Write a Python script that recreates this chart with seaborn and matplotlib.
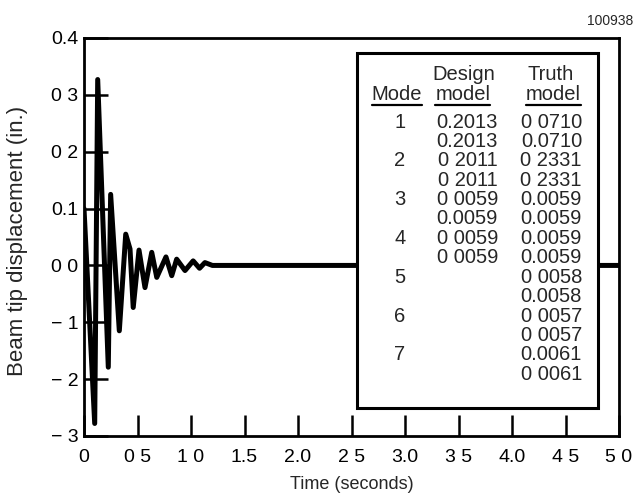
import numpy as np
import pandas as pd
import matplotlib
matplotlib.use("Agg")
import matplotlib.pyplot as plt
import seaborn as sns
from matplotlib.patches import Rectangle
from matplotlib.lines import Line2D

# beam tip response
time_s = [0.0, 0.10, 0.128, 0.227, 0.249, 0.33, 0.39, 0.43, 0.46, 0.514, 0.57,
          0.633, 0.68, 0.766, 0.82, 0.866, 0.944, 1.02, 1.08, 1.13, 1.2, 5.0]
displacement = [0.10, -0.278, 0.327, -0.179, 0.125, -0.115, 0.055, 0.029, -0.074,
                0.027, -0.039, 0.023, -0.021, 0.015, -0.018, 0.011, -0.009, 0.008,
                -0.005, 0.005, 0.0, 0.0]

# inset table (text as printed in the scan)
modes = ["1", "", "2", "", "3", "", "4", "", "5", "", "6", "", "7", ""]
design_model = ["0.2013", "0.2013", "0 2011", "0 2011", "0 0059", "0.0059",
                "0 0059", "0 0059", "", "", "", "", "", ""]
truth_model = ["0 0710", "0.0710", "0 2331", "0 2331", "0.0059", "0.0059",
               "0.0059", "0.0059", "0 0058", "0.0058", "0 0057", "0 0057",
               "0.0061", "0 0061"]

ytick_vals = [0.4, 0.3, 0.2, 0.1, 0.0, -0.1, -0.2, -0.3]
ytick_labels = ["0.4", "0 3", "0 2", "0.1", "0 0", "\u2212 1", "\u2212 2", "\u2212 3"]
xtick_vals = [0.0, 0.5, 1.0, 1.5, 2.0, 2.5, 3.0, 3.5, 4.0, 4.5, 5.0]
xtick_labels = ["0", "0 5", "1 0", "1.5", "2.0", "2 5", "3.0", "3 5", "4.0", "4 5", "5 0"]

df = pd.DataFrame({"time": time_s, "disp": displacement})

sns.set_style("white")
plt.rcParams["font.family"] = ["Liberation Sans", "DejaVu Sans"]

W, H = 635, 499
fig = plt.figure(figsize=(W / 100, H / 100), dpi=100)
# axes box in pixels: left 84, right 619, top 38, bottom 436
ax = fig.add_axes([84 / W, 1 - 436 / H, (619 - 84) / W, (436 - 38) / H])

sns.lineplot(data=df, x="time", y="disp", ax=ax, color="black", linewidth=3.6,
             sort=False, zorder=2)

ax.set_xlim(0, 5.0)
ax.set_ylim(-0.3, 0.4)
ax.set_xticks(xtick_vals)
ax.set_xticklabels(xtick_labels)
ax.set_yticks(ytick_vals)
ax.set_yticklabels(ytick_labels)
ax.tick_params(axis="both", direction="in", width=1.8, labelsize=14,
               colors="black", bottom=True, left=True, top=False, right=False)
ax.tick_params(axis="x", pad=9, length=15)
ax.tick_params(axis="y", pad=4, length=17)
for sp in ax.spines.values():
    sp.set_linewidth(2)
    sp.set_color("black")

ax.set_xlabel("Time (seconds)", fontsize=13)
ax.set_ylabel("Beam tip displacement (in.)", fontsize=16)
ax.xaxis.set_label_coords(0.5, -0.10)
ax.yaxis.set_label_coords(-0.105, 0.49)

# inset table box
box_x0, box_x1 = (357 - 84) / 535, (598 - 84) / 535
box_y0, box_y1 = (436 - 408) / 398, (436 - 53) / 398
ax.add_patch(Rectangle((box_x0, box_y0), box_x1 - box_x0, box_y1 - box_y0,
                       transform=ax.transAxes, facecolor="white", edgecolor="black",
                       linewidth=2.2, zorder=5))


def fx(px):
    return (px - 84) / 535


def fy(py):
    return (436 - py) / 398


tsize = 14.5
kw = dict(transform=ax.transAxes, fontsize=tsize, zorder=6, va="center")
ax.text(fx(464), fy(75), "Design", ha="center", **kw)
ax.text(fx(551), fy(75), "Truth", ha="center", **kw)
underlined = [
    ax.text(fx(397), fy(94), "Mode", ha="center", **kw),
    ax.text(fx(463), fy(94), "model", ha="center", **kw),
    ax.text(fx(553), fy(94), "model", ha="center", **kw),
]

row_h = 19.4
for i in range(len(modes)):
    y = fy(122 + row_h * i)
    ax.text(fx(400), y, modes[i], ha="center", **kw)
    ax.text(fx(498), y, design_model[i], ha="right", **kw)
    ax.text(fx(582), y, truth_model[i], ha="right", **kw)

fig.text(587 / W, 1 - 21 / H, "100938", fontsize=10, ha="left", va="center")

# underline the column headers
fig.canvas.draw()
renderer = fig.canvas.get_renderer()
inv = fig.transFigure.inverted()
for t in underlined:
    bb = t.get_window_extent(renderer)
    (x0, y0), (x1, _) = inv.transform([(bb.x0, bb.y0 - 1), (bb.x1, bb.y0)])
    fig.add_artist(Line2D([x0, x1], [y0, y0], transform=fig.transFigure,
                          color="black", linewidth=1.6, zorder=7))

fig.savefig("out.png", dpi=100)
